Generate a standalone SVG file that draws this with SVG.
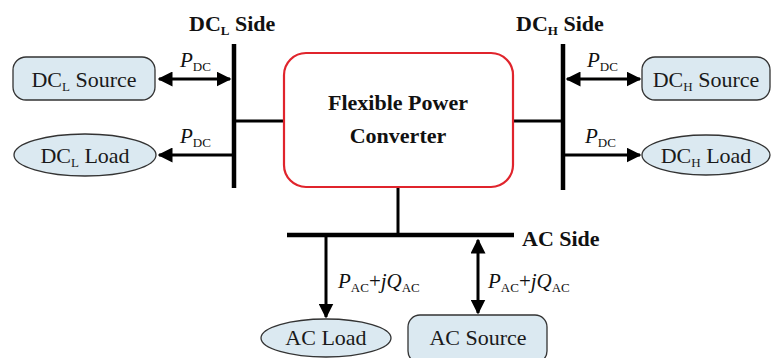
<svg xmlns="http://www.w3.org/2000/svg" width="773" height="358" viewBox="0 0 773 358" font-family="Liberation Serif, Times New Roman, serif">
<defs>
<style>
.bus{stroke:#000;stroke-width:4.5;fill:none}
.ln{stroke:#000;stroke-width:3;fill:none}
.node{fill:#dbe9f1;stroke:#333;stroke-width:1.3}
.t{font-size:22px;fill:#1a1a1a}
.b{font-size:22px;font-weight:bold;fill:#111}
.s{font-size:13px}
.lab{font-size:21px;fill:#111}
.it{font-style:italic}
</style>
<marker id="ah" viewBox="0 0 10 10" refX="9" refY="5" markerWidth="5" markerHeight="5" orient="auto-start-reverse" markerUnits="strokeWidth">
<path d="M0,0 L10,5 L0,10 Z" fill="#000"/>
</marker>
</defs>
<rect width="773" height="358" fill="#fff"/>
<g id="connectors">
<line class="bus" x1="234" y1="44" x2="234" y2="188"/>
<line class="bus" x1="563" y1="44" x2="563" y2="190"/>
<line class="bus" x1="287" y1="235" x2="514" y2="235"/>
<line class="ln" x1="234" y1="121" x2="284" y2="121"/>
<line class="ln" x1="513" y1="121" x2="563" y2="121"/>
<line class="ln" x1="398" y1="187" x2="398" y2="235"/>
<line class="ln" x1="159" y1="79" x2="230" y2="79" marker-start="url(#ah)" marker-end="url(#ah)"/>
<line class="ln" x1="232" y1="155" x2="159" y2="155" marker-end="url(#ah)"/>
<line class="ln" x1="567" y1="79" x2="640" y2="79" marker-start="url(#ah)" marker-end="url(#ah)"/>
<line class="ln" x1="565" y1="155" x2="640" y2="155" marker-end="url(#ah)"/>
<line class="ln" x1="326" y1="237" x2="326" y2="317" marker-end="url(#ah)"/>
<line class="ln" x1="478" y1="240" x2="478" y2="313" marker-start="url(#ah)" marker-end="url(#ah)"/>
<text class="lab" x="180" y="67"><tspan class="it">P</tspan><tspan class="s" dy="4">DC</tspan></text>
<text class="lab" x="180" y="143"><tspan class="it">P</tspan><tspan class="s" dy="4">DC</tspan></text>
<text class="lab" x="587" y="67"><tspan class="it">P</tspan><tspan class="s" dy="4">DC</tspan></text>
<text class="lab" x="585" y="143"><tspan class="it">P</tspan><tspan class="s" dy="4">DC</tspan></text>
<text class="lab" x="338" y="288"><tspan class="it">P</tspan><tspan class="s" dy="4">AC</tspan><tspan dy="-4">+</tspan><tspan class="it">jQ</tspan><tspan class="s" dy="4">AC</tspan></text>
<text class="lab" x="488" y="288"><tspan class="it">P</tspan><tspan class="s" dy="4">AC</tspan><tspan dy="-4">+</tspan><tspan class="it">jQ</tspan><tspan class="s" dy="4">AC</tspan></text>
<text class="b" x="189" y="31">DC<tspan class="s" dy="4">L</tspan><tspan dy="-4"> Side</tspan></text>
<text class="b" x="516" y="31">DC<tspan class="s" dy="4">H</tspan><tspan dy="-4"> Side</tspan></text>
<text class="b" x="522" y="246">AC Side</text>
</g>
<g id="converter">
<rect x="284" y="53" width="229" height="134" rx="22" fill="#fff" stroke="#e0242c" stroke-width="2.2"/>
<text class="b" x="398" y="110" text-anchor="middle">Flexible Power</text>
<text class="b" x="398" y="143" text-anchor="middle">Converter</text>
</g>
<g id="dcl-source">
<rect class="node" x="13" y="57" width="142" height="43" rx="13"/>
<text class="t" x="84" y="87" text-anchor="middle">DC<tspan class="s" dy="4">L</tspan><tspan dy="-4"> Source</tspan></text>
</g>
<g id="dcl-load">
<ellipse class="node" cx="85" cy="155" rx="71" ry="21"/>
<text class="t" x="85" y="163" text-anchor="middle">DC<tspan class="s" dy="4">L</tspan><tspan dy="-4"> Load</tspan></text>
</g>
<g id="dch-source">
<rect class="node" x="642" y="57" width="128" height="43" rx="13"/>
<text class="t" x="706" y="87" text-anchor="middle">DC<tspan class="s" dy="4">H</tspan><tspan dy="-4"> Source</tspan></text>
</g>
<g id="dch-load">
<ellipse class="node" cx="706" cy="155" rx="64" ry="20"/>
<text class="t" x="706" y="163" text-anchor="middle">DC<tspan class="s" dy="4">H</tspan><tspan dy="-4"> Load</tspan></text>
</g>
<g id="ac-load">
<ellipse class="node" cx="326" cy="338" rx="65" ry="19"/>
<text class="t" x="326" y="345" text-anchor="middle">AC Load</text>
</g>
<g id="ac-source">
<rect class="node" x="408" y="315" width="139" height="48" rx="12"/>
<text class="t" x="478" y="345" text-anchor="middle">AC Source</text>
</g>
</svg>
